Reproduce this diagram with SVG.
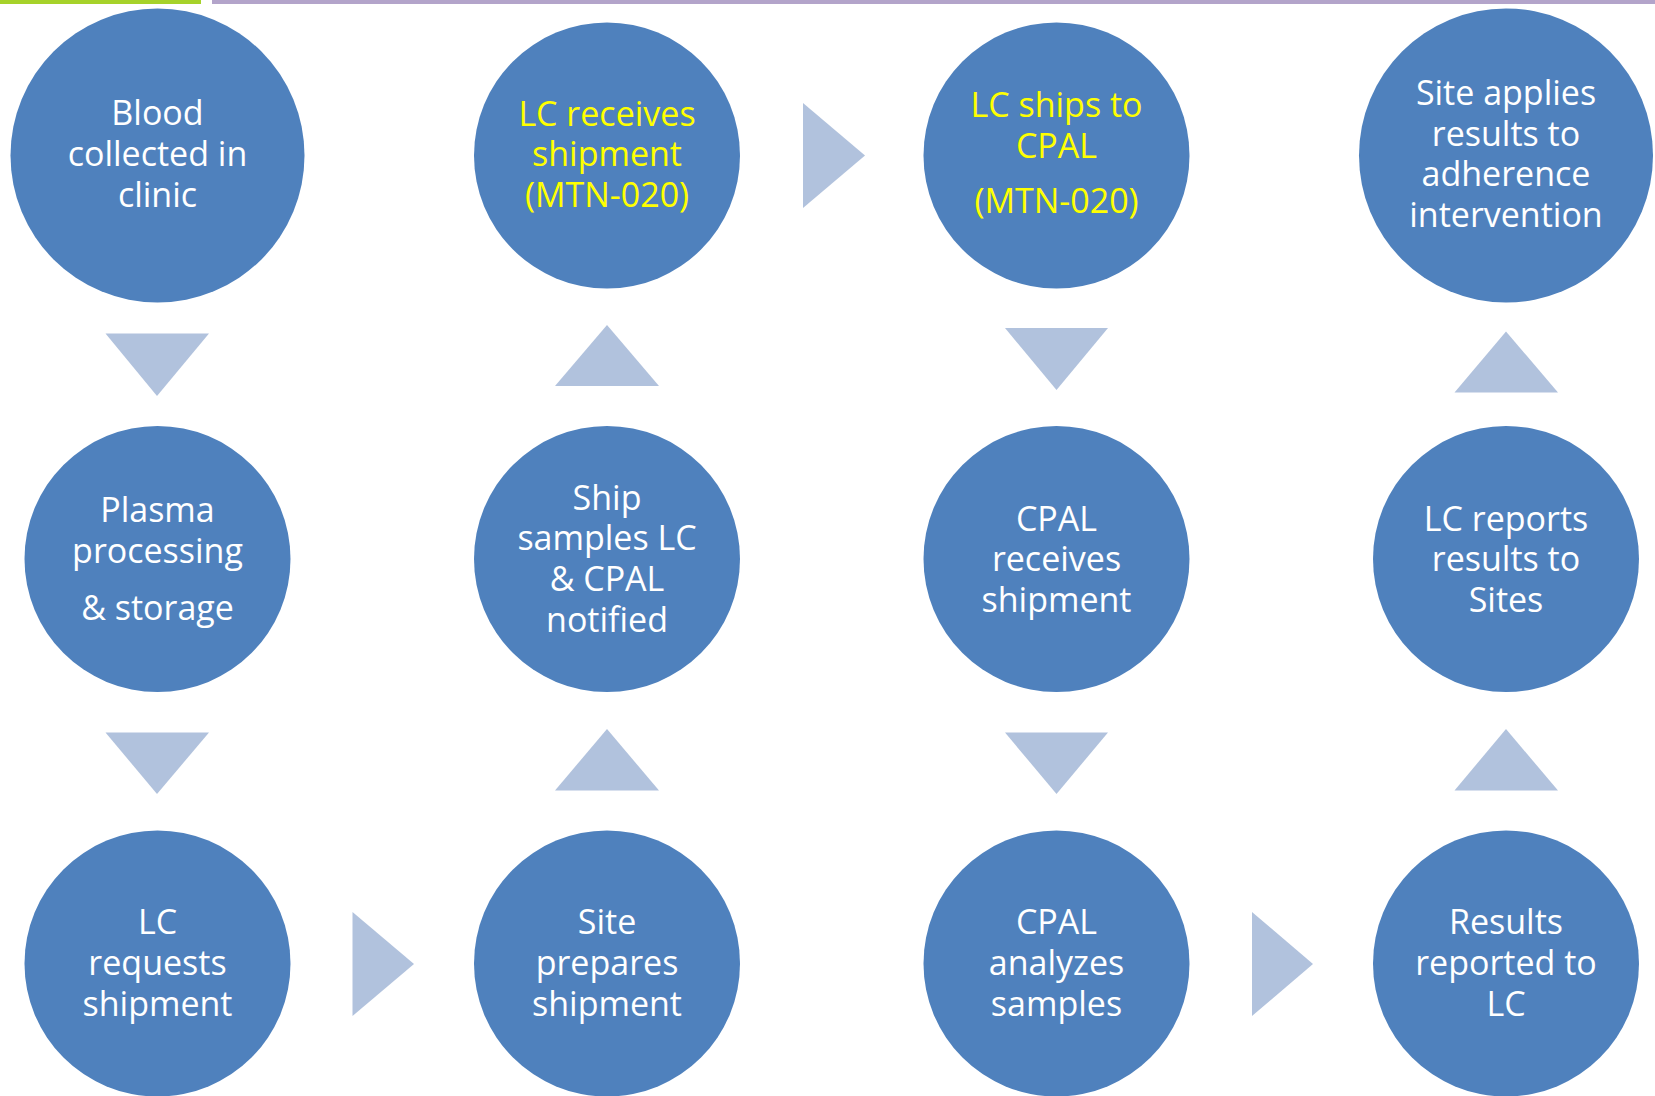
<svg xmlns="http://www.w3.org/2000/svg" width="1655" height="1096" viewBox="0 0 1655 1096">
<style>
.n{fill:#4F81BD}
.a{fill:#B1C2DD}
text{font-family:"Open Sans","Liberation Sans",sans-serif;font-size:34px;fill:#FFFFFF;text-anchor:middle}
.y{fill:#FFFF00}
</style>
<rect x="0" y="0" width="201" height="4" fill="#A6D22A"/>
<rect x="212" y="0" width="1443" height="4" fill="#B3A4CA"/>
<g id="connectors">
<polygon class="a" points="105.5,333.5 209,333.5 157,396"/>
<polygon class="a" points="105.5,732.5 209,732.5 157,794"/>
<polygon class="a" points="352.5,912 352.5,1016 414,964"/>
<polygon class="a" points="555,790.5 659,790.5 607,729"/>
<polygon class="a" points="555,386 659,386 607,325"/>
<polygon class="a" points="803,103 803,208 865,155.5"/>
<polygon class="a" points="1005,328 1108,328 1056.5,390"/>
<polygon class="a" points="1005,732.5 1108,732.5 1056.5,794"/>
<polygon class="a" points="1252,912 1252,1016 1313,964"/>
<polygon class="a" points="1454.5,790.5 1558,790.5 1506,729"/>
<polygon class="a" points="1454.5,392.5 1558,392.5 1506,331.5"/>
</g>
<g id="n1"><circle class="n" cx="157.5" cy="155.5" r="147"/>
<text x="157.5" y="125">Blood</text><text x="157.5" y="166">collected in</text><text x="157.5" y="207">clinic</text></g>
<g id="n2"><circle class="n" cx="607" cy="155.5" r="133"/>
<text class="y" x="607" y="125.5">LC receives</text><text class="y" x="607" y="166">shipment</text><text class="y" x="607" y="206.5">(MTN-020)</text></g>
<g id="n3"><circle class="n" cx="1056.5" cy="155.5" r="133"/>
<text class="y" x="1056.5" y="117">LC ships to</text><text class="y" x="1056.5" y="157.5">CPAL</text><text class="y" x="1056.5" y="213">(MTN-020)</text></g>
<g id="n4"><circle class="n" cx="1506" cy="155.5" r="147"/>
<text x="1506" y="105">Site applies</text><text x="1506" y="145.5">results to</text><text x="1506" y="186">adherence</text><text x="1506" y="226.5">intervention</text></g>
<g id="n5"><circle class="n" cx="157.5" cy="559" r="133"/>
<text x="157.5" y="521.5">Plasma</text><text x="157.5" y="562.5">processing</text><text x="157.5" y="620">&amp; storage</text></g>
<g id="n6"><circle class="n" cx="607" cy="559" r="133"/>
<text x="607" y="509.5">Ship</text><text x="607" y="550">samples LC</text><text x="607" y="591">&amp; CPAL</text><text x="607" y="631.5">notified</text></g>
<g id="n7"><circle class="n" cx="1056.5" cy="559" r="133"/>
<text x="1056.5" y="531">CPAL</text><text x="1056.5" y="571">receives</text><text x="1056.5" y="612">shipment</text></g>
<g id="n8"><circle class="n" cx="1506" cy="559" r="133"/>
<text x="1506" y="531">LC reports</text><text x="1506" y="571">results to</text><text x="1506" y="612">Sites</text></g>
<g id="n9"><circle class="n" cx="157.5" cy="963.5" r="133"/>
<text x="157.5" y="934">LC</text><text x="157.5" y="975">requests</text><text x="157.5" y="1015.5">shipment</text></g>
<g id="n10"><circle class="n" cx="607" cy="963.5" r="133"/>
<text x="607" y="934">Site</text><text x="607" y="975">prepares</text><text x="607" y="1015.5">shipment</text></g>
<g id="n11"><circle class="n" cx="1056.5" cy="963.5" r="133"/>
<text x="1056.5" y="934">CPAL</text><text x="1056.5" y="975">analyzes</text><text x="1056.5" y="1015.5">samples</text></g>
<g id="n12"><circle class="n" cx="1506" cy="963.5" r="133"/>
<text x="1506" y="934">Results</text><text x="1506" y="975">reported to</text><text x="1506" y="1015.5">LC</text></g>
</svg>
